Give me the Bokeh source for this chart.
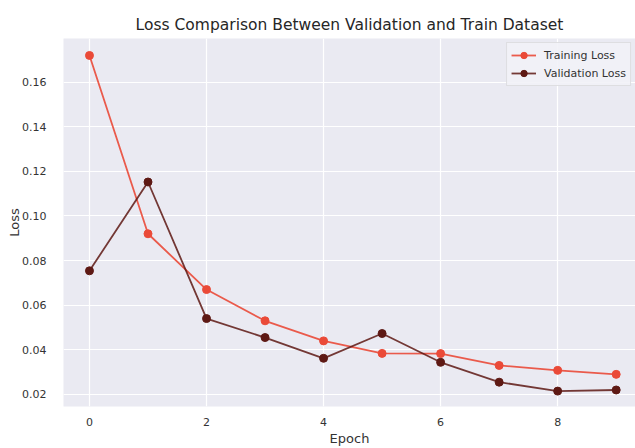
from bokeh.plotting import figure
from bokeh.models import Range1d, FixedTicker, NumeralTickFormatter
from bokeh.embed import file_html
from bokeh.resources import INLINE

epochs = [0, 1, 2, 3, 4, 5, 6, 7, 8, 9]
training_loss = [0.1719, 0.0920, 0.0670, 0.0530, 0.0440, 0.0384, 0.0383, 0.0330, 0.0308, 0.0290]
validation_loss = [0.0754, 0.1152, 0.0540, 0.0455, 0.0362, 0.0473, 0.0344, 0.0255, 0.0215, 0.0220]
x_ticks = [0, 2, 4, 6, 8]
y_ticks = [0.02, 0.04, 0.06, 0.08, 0.10, 0.12, 0.14, 0.16]

FONT = "DejaVu Sans"
TEXT = "#333333"
TRAIN_C = "#EA4A38"
VAL_C = "#5E1914"

p = figure(width=635, height=448, output_backend="svg", toolbar_location=None,
           title="Loss Comparison Between Validation and Train Dataset",
           x_range=Range1d(-0.444, 9.33), y_range=Range1d(0.0146, 0.1795),
           min_border_left=63, min_border_right=0, min_border_top=38, min_border_bottom=41)

p.background_fill_color = "#EAEAF2"
p.border_fill_color = "white"
p.outline_line_color = None

p.title.text_font = FONT
p.title.text_font_size = "15.5px"
p.title.text_font_style = "normal"
p.title.text_color = "#262626"
p.title.align = "center"
p.title.offset = 2

for ax in (p.xaxis, p.yaxis):
    ax.axis_line_color = None
    ax.major_tick_line_color = None
    ax.minor_tick_line_color = None
    ax.major_label_text_font = FONT
    ax.major_label_text_font_size = "11px"
    ax.major_label_text_color = TEXT
    ax.axis_label_text_font = FONT
    ax.axis_label_text_font_size = "13px"
    ax.axis_label_text_font_style = "normal"
    ax.axis_label_text_color = TEXT

p.xaxis.axis_label = "Epoch"
p.yaxis.axis_label = "Loss"
p.xaxis.ticker = FixedTicker(ticks=x_ticks)
p.yaxis.ticker = FixedTicker(ticks=y_ticks)
p.yaxis.formatter = NumeralTickFormatter(format="0.00")
p.xaxis.major_label_standoff = 5
p.yaxis.major_label_standoff = 11
p.xaxis.axis_label_standoff = 2
p.yaxis.axis_label_standoff = -3

p.grid.grid_line_color = "white"
p.grid.grid_line_width = 1.2
p.xgrid.ticker = FixedTicker(ticks=x_ticks)
p.ygrid.ticker = FixedTicker(ticks=y_ticks)

p.line(epochs, training_loss, line_color=TRAIN_C, line_width=1.8, line_alpha=0.9, legend_label="Training Loss")
p.scatter(epochs, training_loss, size=8, fill_color=TRAIN_C, line_color=TRAIN_C, legend_label="Training Loss")
p.line(epochs, validation_loss, line_color=VAL_C, line_width=1.8, line_alpha=0.85, legend_label="Validation Loss")
p.scatter(epochs, validation_loss, size=8, fill_color=VAL_C, line_color=VAL_C, legend_label="Validation Loss")

lg = p.legend[0]
lg.location = "top_right"
lg.margin = 4
lg.padding = 4
lg.spacing = 2
lg.glyph_width = 25
lg.glyph_height = 16
lg.label_height = 16
lg.label_standoff = 8
lg.label_text_font = FONT
lg.label_text_font_size = "11px"
lg.label_text_color = TEXT
lg.background_fill_color = "#F2F2F7"
lg.background_fill_alpha = 0.9
lg.border_line_color = "#CCCCCC"
lg.border_line_width = 1

open("out.html", "w").write(file_html(p, INLINE))
